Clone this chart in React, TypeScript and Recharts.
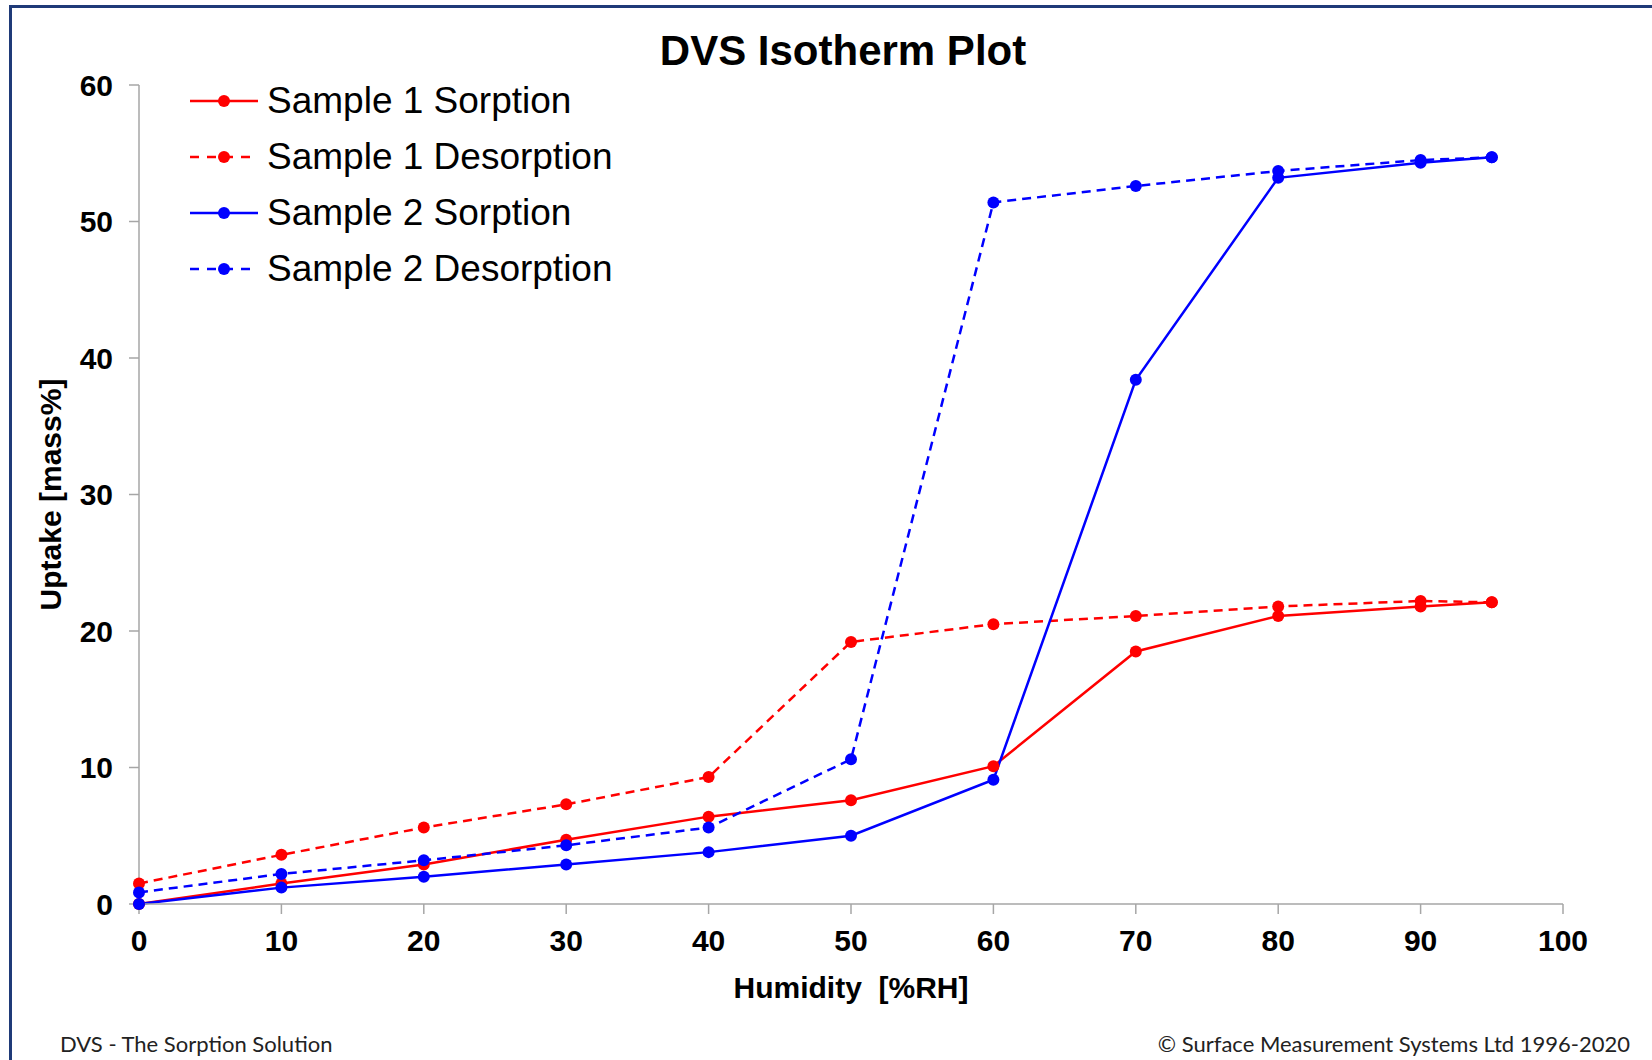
import { LineChart, Line, XAxis, YAxis, Label, Legend } from "recharts";

const humidity = [0, 10, 20, 30, 40, 50, 60, 70, 80, 90, 95];
const s1Sorption = [0, 1.5, 2.9, 4.7, 6.4, 7.6, 10.1, 18.5, 21.1, 21.8, 22.1];
const s1Desorption = [1.5, 3.6, 5.6, 7.3, 9.3, 19.2, 20.5, 21.1, 21.8, 22.2, 22.1];
const s2Sorption = [0, 1.2, 2.0, 2.9, 3.8, 5.0, 9.1, 38.4, 53.2, 54.3, 54.7];
const s2Desorption = [0.85, 2.2, 3.2, 4.3, 5.6, 10.6, 51.4, 52.6, 53.7, 54.5, 54.7];

const xTicks = [0, 10, 20, 30, 40, 50, 60, 70, 80, 90, 100];
const yTicks = [0, 10, 20, 30, 40, 50, 60];

const seriesNames = [
  "Sample 1 Sorption",
  "Sample 1 Desorption",
  "Sample 2 Sorption",
  "Sample 2 Desorption",
];

const rows = humidity.map((rh, i) => ({
  rh,
  s1s: s1Sorption[i],
  s1d: s1Desorption[i],
  s2s: s2Sorption[i],
  s2d: s2Desorption[i],
}));

const RED = "#ff0000";
const BLUE = "#0000ff";
const AXIS = "#a6a6a6";
const FONT = "'Liberation Sans', Arial, sans-serif";
const DASH = "9 6";

const series = [
  { key: "s1s", name: seriesNames[0], color: RED, dash: undefined },
  { key: "s1d", name: seriesNames[1], color: RED, dash: DASH },
  { key: "s2s", name: seriesNames[2], color: BLUE, dash: undefined },
  { key: "s2d", name: seriesNames[3], color: BLUE, dash: DASH },
];

function LegendBox() {
  return (
    <div style={{ fontFamily: FONT, fontSize: 37, color: "#000" }}>
      {series.map((s) => (
        <div
          key={s.key}
          style={{ display: "flex", alignItems: "center", height: 56 }}
        >
          <svg width={77} height={20} style={{ display: "block" }}>
            <line
              x1={0}
              y1={10}
              x2={68}
              y2={10}
              stroke={s.color}
              strokeWidth={2.5}
              strokeDasharray={s.dash ? "9 8" : undefined}
            />
            <circle cx={34} cy={10} r={6} fill={s.color} />
          </svg>
          <span style={{ lineHeight: "56px", whiteSpace: "nowrap" }}>{s.name}</span>
        </div>
      ))}
    </div>
  );
}

export default function App() {
  const tickStyle = { fontFamily: FONT, fontSize: 30, fontWeight: "bold", fill: "#000" };
  return (
    <div
      style={{
        position: "absolute",
        left: 0,
        top: 0,
        width: 1652,
        height: 1060,
        background: "#fff",
        overflow: "hidden",
      }}
    >
      <div
        style={{
          position: "absolute",
          left: 9,
          top: 5,
          right: -10,
          bottom: -10,
          borderTop: "3px solid #1f3a78",
          borderLeft: "3px solid #1f3a78",
        }}
      />
      <div
        style={{
          position: "absolute",
          left: 0,
          width: 1686,
          top: 26,
          textAlign: "center",
          fontFamily: FONT,
          fontWeight: "bold",
          fontSize: 42,
          lineHeight: "50px",
          color: "#000",
        }}
      >
        DVS Isotherm Plot
      </div>
      <div style={{ position: "absolute", left: 0, top: 0 }}>
        <LineChart
          width={1652}
          height={1060}
          data={rows}
          margin={{ top: 85, right: 89, bottom: 0, left: 0 }}
        >
          <XAxis
            dataKey="rh"
            type="number"
            domain={[0, 100]}
            ticks={xTicks}
            interval={0}
            height={156}
            stroke={AXIS}
            strokeWidth={1.5}
            tickSize={10}
            tickMargin={16}
            tick={tickStyle}
          >
            <Label
              value={"Humidity\u00a0 [%RH]"}
              position="insideBottom"
              offset={62}
              style={{ fontFamily: FONT, fontSize: 30, fontWeight: "bold", fill: "#000" }}
            />
          </XAxis>
          <YAxis
            type="number"
            domain={[0, 60]}
            ticks={yTicks}
            interval={0}
            width={139}
            stroke={AXIS}
            strokeWidth={1.5}
            tickSize={10}
            tickMargin={16}
            tick={tickStyle}
          >
            <Label
              content={({ viewBox }: any) => {
                if (!viewBox) return null;
                const cx = viewBox.x + 50;
                const cy = viewBox.y + viewBox.height / 2;
                return (
                  <text
                    x={cx}
                    y={cy}
                    transform={`rotate(-90 ${cx} ${cy})`}
                    textAnchor="middle"
                    dominantBaseline="central"
                    style={{ fontFamily: FONT, fontSize: 30, fontWeight: "bold", fill: "#000" }}
                  >
                    Uptake [mass%]
                  </text>
                );
              }}
            />
          </YAxis>
          <Legend
            layout="vertical"
            align="center"
            verticalAlign="middle"
            content={() => <LegendBox />}
            wrapperStyle={{ left: 190, top: 73, width: "auto", height: "auto" }}
          />
          {series.map((s) => (
            <Line
              key={s.key}
              dataKey={s.key}
              name={s.name}
              type="linear"
              stroke={s.color}
              strokeWidth={2.5}
              strokeDasharray={s.dash}
              dot={{ r: 6, fill: s.color, stroke: "none", strokeDasharray: "" }}
              activeDot={false}
              isAnimationActive={false}
            />
          ))}
        </LineChart>
      </div>
      <div
        style={{
          position: "absolute",
          left: 60,
          top: 1030,
          fontFamily: "Lato, sans-serif",
          fontSize: 22,
          color: "#222",
        }}
      >
        DVS - The Sorption Solution
      </div>
      <div
        style={{
          position: "absolute",
          right: 22,
          top: 1030,
          fontFamily: "Lato, sans-serif",
          fontSize: 22,
          color: "#222",
        }}
      >
        © Surface Measurement Systems Ltd 1996-2020
      </div>
    </div>
  );
}
